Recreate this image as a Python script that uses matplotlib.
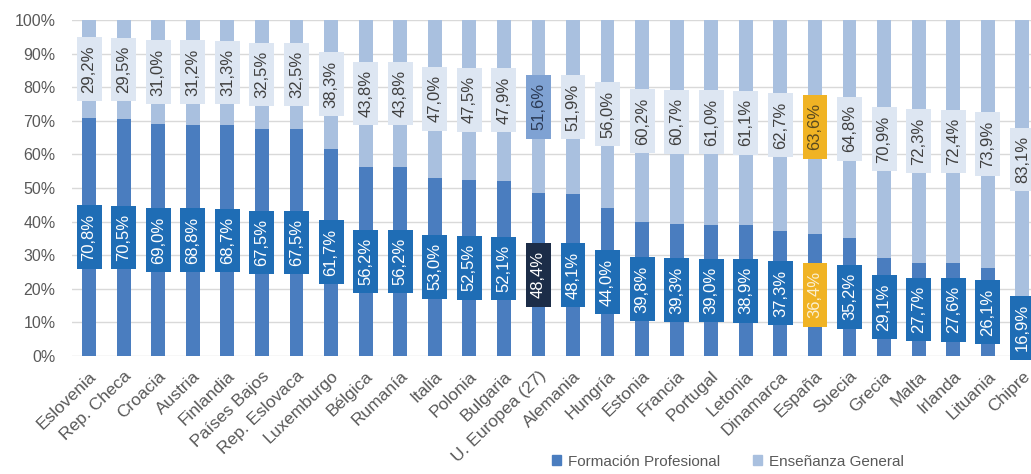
import matplotlib.pyplot as plt
from matplotlib.patches import Patch, Rectangle
import numpy as np

plt.rcParams['font.family'] = ['Liberation Sans', 'DejaVu Sans']

paises = ["Eslovenia", "Rep. Checa", "Croacia", "Austria", "Finlandia", "Países Bajos",
          "Rep. Eslovaca", "Luxemburgo", "Bélgica", "Rumanía", "Italia", "Polonia",
          "Bulgaria", "U. Europea (27)", "Alemania", "Hungría", "Estonia", "Francia",
          "Portugal", "Letonia", "Dinamarca", "España", "Suecia", "Grecia", "Malta",
          "Irlanda", "Lituania", "Chipre"]
formacion_profesional = [70.8, 70.5, 69.0, 68.8, 68.7, 67.5, 67.5, 61.7, 56.2, 56.2, 53.0,
                         52.5, 52.1, 48.4, 48.1, 44.0, 39.8, 39.3, 39.0, 38.9, 37.3, 36.4,
                         35.2, 29.1, 27.7, 27.6, 26.1, 16.9]
ensenanza_general = [29.2, 29.5, 31.0, 31.2, 31.3, 32.5, 32.5, 38.3, 43.8, 43.8, 47.0,
                     47.5, 47.9, 51.6, 51.9, 56.0, 60.2, 60.7, 61.0, 61.1, 62.7, 63.6,
                     64.8, 70.9, 72.3, 72.4, 73.9, 83.1]
yticks = [0, 10, 20, 30, 40, 50, 60, 70, 80, 90, 100]

c_fp = '#4a7dbf'
c_eg = '#a9c0df'
box_fp = '#1f6db5'
box_eg = '#dde6f2'
gray = '#595959'

fig = plt.figure(figsize=(10.31, 4.74), dpi=100)
ax = fig.add_axes([0.070, 0.249, 0.930, 0.709])

x = np.arange(len(paises))
fp = np.array(formacion_profesional)
eg = np.array(ensenanza_general)
ax.bar(x, fp, width=0.40, color=c_fp, zorder=2)
ax.bar(x, eg, width=0.40, bottom=fp, color=c_eg, zorder=2)

def fmt(v):
    return f"{v:.1f}%".replace('.', ',')

# label boxes: fixed size, centred on each segment
BOX_W, BOX_H = 0.72, 19.0

def label(xc, yc, txt, fc, tc):
    ax.add_patch(Rectangle((xc - BOX_W / 2, yc - BOX_H / 2), BOX_W, BOX_H,
                           facecolor=fc, edgecolor='none', zorder=3, clip_on=False))
    ax.text(xc, yc, txt, rotation=90, ha='center', va='center',
            fontsize=12, color=tc, zorder=4)

for i, name in enumerate(paises):
    bfc, btc = box_fp, 'white'
    tfc, ttc = box_eg, '#404040'
    if name.startswith("U. Europea"):
        bfc, tfc = '#1c2d48', '#7fa2d3'
        ttc = '#2b3a55'
    elif name == "España":
        bfc, tfc = '#f0b324', '#f0b324'
        btc, ttc = '#fbf0d0', '#5a4a20'
    label(i, fp[i] / 2, fmt(fp[i]), bfc, btc)
    label(i, fp[i] + eg[i] / 2, fmt(eg[i]), tfc, ttc)

ax.set_xlim(-0.49, 27.25)
ax.set_ylim(0, 100)
ax.set_yticks(yticks)
ax.set_yticklabels([f"{t}%" for t in yticks], fontsize=11.5, color=gray)
ax.set_xticks(x)
ax.set_xticklabels(paises, rotation=44, ha='right', va='top', rotation_mode='anchor',
                   fontsize=12.5, color=gray)
ax.tick_params(axis='both', length=0)
ax.tick_params(axis='y', pad=12)
ax.tick_params(axis='x', pad=9)
ax.grid(axis='y', color='#d9d9d9', linewidth=1, zorder=0)
for s in ax.spines.values():
    s.set_visible(False)

handles = [Patch(color=c_fp, label='Formación Profesional'),
           Patch(color=c_eg, label='Enseñanza General')]
fig.legend(handles=handles, loc='center', bbox_to_anchor=(0.706, 0.026), ncol=2,
           frameon=False, fontsize=11, handlelength=0.6, handleheight=0.6,
           handletextpad=0.4, columnspacing=2.2, labelcolor=gray)

fig.savefig('out.png', dpi=100)
